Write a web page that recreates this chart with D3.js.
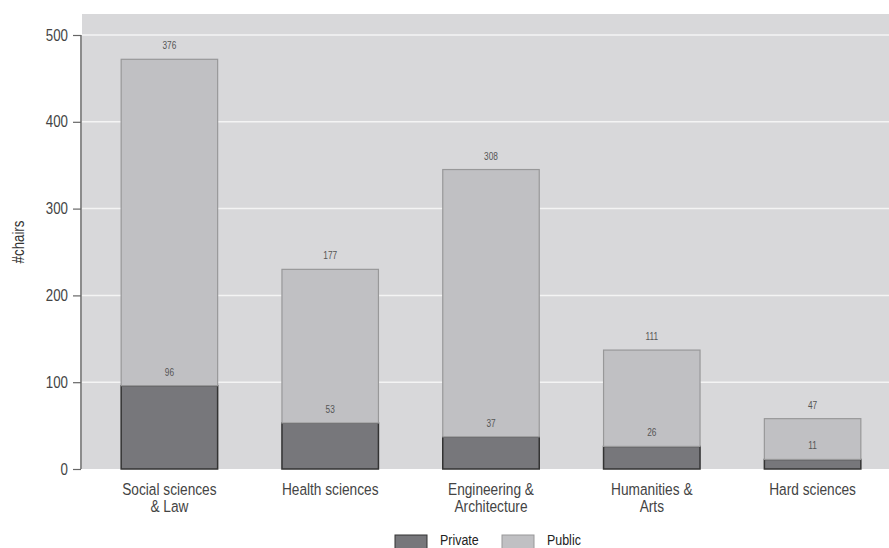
<!DOCTYPE html>
<html>
<head>
<meta charset="utf-8">
<script src="https://cdn.jsdelivr.net/npm/d3@7"></script>
<style>
  body { margin: 0; background: #fff; }
  svg { display: block; font-family: "Liberation Sans", Arial, sans-serif; }
</style>
</head>
<body>
<div id="chart"></div>
<script>
// Data
const categories = ["Social sciences\n& Law", "Health sciences", "Engineering &\nArchitecture", "Humanities &\nArts", "Hard sciences"];
const privateValues = [96, 53, 37, 26, 11];
const publicValues = [376, 177, 308, 111, 47];
const yTicks = [0, 100, 200, 300, 400, 500];
const seriesNames = ["Private", "Public"];

const width = 889;
const height = 548;
const colors = { Private: "#77777b", Public: "#c0c0c3" };
const strokes = { Private: "#333", Public: "#989899" };
const narrow = 0.83; // horizontal squeeze to mimic a condensed face

const svg = d3.select("#chart").append("svg")
    .attr("width", width)
    .attr("height", height);

// Scales
const x = d3.scaleBand()
    .domain(categories)
    .range([89, 893])
    .paddingInner(0.4)
    .paddingOuter(0.2);

const y = d3.scaleLinear()
    .domain([0, 500])
    .range([469, 35]);

// Panel background
svg.append("rect")
    .attr("x", 82).attr("y", 14)
    .attr("width", width - 82).attr("height", 469 - 14)
    .attr("fill", "#d8d8da");

// Grid lines
svg.selectAll(".grid")
    .data(yTicks.filter(d => d > 0))
    .enter().append("line")
    .attr("x1", 82).attr("x2", width)
    .attr("y1", d => y(d)).attr("y2", d => y(d))
    .attr("stroke", "#f4f4f4")
    .attr("stroke-width", 1.5);

// Stack data
const rows = categories.map((c, i) => ({ cat: c, Private: privateValues[i], Public: publicValues[i] }));
const stacked = d3.stack().keys(seriesNames)(rows);

svg.selectAll(".layer")
    .data(stacked)
    .enter().append("g")
    .attr("fill", d => colors[d.key])
    .attr("stroke", d => strokes[d.key])
    .attr("stroke-width", d => d.key === "Private" ? 1.5 : 1.2)
    .selectAll("rect")
    .data(d => d)
    .enter().append("rect")
    .attr("x", d => x(d.data.cat))
    .attr("width", x.bandwidth())
    .attr("y", d => y(d[1]))
    .attr("height", d => y(d[0]) - y(d[1]));

// Value labels
stacked.forEach(layer => {
    svg.selectAll(".lbl-" + layer.key)
        .data(layer)
        .enter().append("text")
        .attr("transform", d => `translate(${x(d.data.cat) + x.bandwidth() / 2},${y(d[1]) - 10}) scale(${narrow},1)`)
        .attr("text-anchor", "middle")
        .attr("font-size", 10)
        .attr("fill", "#555")
        .text(d => d.data[layer.key]);
});

// Y axis
const yAxis = svg.append("g")
    .attr("transform", "translate(81,0)")
    .call(d3.axisLeft(y).tickValues(yTicks).tickSize(8).tickPadding(5));
yAxis.select(".domain").attr("stroke", "#666").attr("stroke-width", 1.5).attr("d", "M0,35V469");
yAxis.selectAll(".tick line").attr("stroke", "#666").attr("stroke-width", 1.2);
yAxis.selectAll(".tick text")
    .attr("x", -13 / narrow)
    .attr("transform", `scale(${narrow},1)`)
    .attr("font-size", 16)
    .attr("fill", "#444")
    .attr("font-family", "Liberation Sans, Arial, sans-serif");

// Y title
svg.append("text")
    .attr("transform", `translate(24,242) rotate(-90) scale(${narrow},1)`)
    .attr("text-anchor", "middle")
    .attr("font-size", 16)
    .attr("fill", "#333")
    .text("#chairs");

// X labels
const xl = svg.selectAll(".xlabel")
    .data(categories)
    .enter().append("text")
    .attr("text-anchor", "middle")
    .attr("font-size", 16.5)
    .attr("fill", "#444")
    .attr("transform", d => `translate(${x(d) + x.bandwidth() / 2},495) scale(${narrow},1)`);
xl.selectAll("tspan")
    .data(d => d.split("\n"))
    .enter().append("tspan")
    .attr("x", 0)
    .attr("dy", (d, i) => i === 0 ? 0 : 17)
    .text(d => d);

// Legend
const legend = svg.selectAll(".legend")
    .data(seriesNames)
    .enter().append("g")
    .attr("transform", (d, i) => `translate(${395 + i * 107},535)`);

legend.append("rect")
    .attr("width", 32)
    .attr("height", 16)
    .attr("fill", d => colors[d])
    .attr("stroke", d => strokes[d]);

legend.append("text")
    .attr("transform", `translate(45,9.5) scale(${narrow},1)`)
    .attr("font-size", 15)
    .attr("fill", "#222")
    .text(d => d);
</script>
</body>
</html>
